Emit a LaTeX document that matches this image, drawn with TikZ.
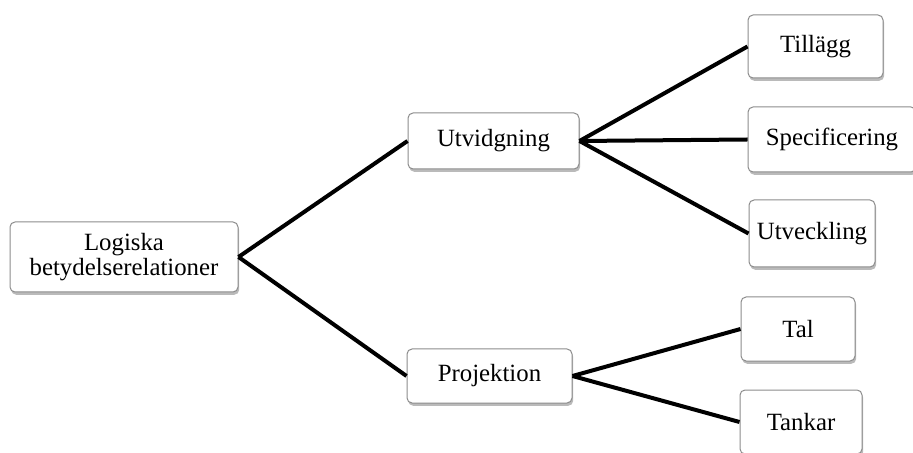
\documentclass[tikz,border=0pt]{standalone}
\usepackage{fontspec}
\setmainfont{Liberation Serif}
\usetikzlibrary{shadows}
\tikzset{
  box/.style={draw=black!45, line width=0.5pt, rounded corners=2.5pt, fill=white,
    drop shadow={shadow xshift=0.6pt, shadow yshift=-1.4pt, fill=black!45, opacity=0.6},
    align=center, inner sep=1pt, font=\fontsize{12.4}{11.2}\selectfont},
  link/.style={line width=2pt, color=black},
}

\begin{document}
\begin{tikzpicture}[x=0.5pt, y=-0.5pt]
			%%%%% START %%%%%
			\useasboundingbox (0, 0) rectangle (913, 453);
			
			% boxes
			\node[box, minimum width=114pt, minimum height=35pt] (root) at (124, 257) {Logiska\\betydelserelationer};
			
			\node[box, minimum width=85.5pt, minimum height=28pt] (utv) at (493.5, 141) {Utvidgning};
			\node[box, minimum width=82.5pt, minimum height=27pt] (proj) at (489.5, 376) {Projektion};
			
			\node[box, minimum width=67.5pt, minimum height=31.5pt] (till) at (815.5, 46.5) {Tillägg};
			\node[box, minimum width=84pt, minimum height=32.5pt] (spec) at (832, 139.5) {Specificering};
			\node[box, minimum width=63pt, minimum height=33.5pt] (utveck) at (812, 233.5) {Utveckling};
			
			\node[box, minimum width=57pt, minimum height=32pt] (tal) at (798, 329) {Tal};
			\node[box, minimum width=61pt, minimum height=32pt] (tank) at (801, 422) {Tankar};
			
			% connectors
			\draw[link] (root.east) -- (utv.west);
			\draw[link] (root.east) -- (proj.west);
			
			\draw[link] (utv.east) -- (till.west);
			\draw[link] (utv.east) -- (spec.west);
			\draw[link] (utv.east) -- (utveck.west);
			
			\draw[link] (proj.east) -- (tal.west);
			\draw[link] (proj.east) -- (tank.west);
			
			%%%%% END %%%%%
		\end{tikzpicture}
\end{document}
